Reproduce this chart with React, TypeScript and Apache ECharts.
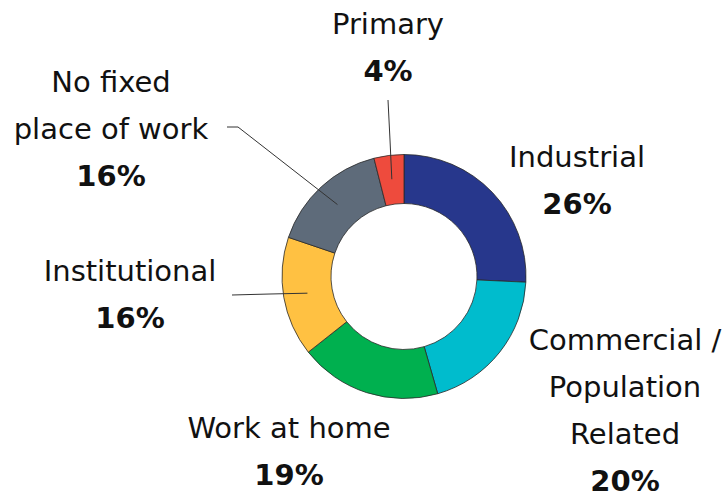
import React, { useEffect, useRef } from "react";
import * as echarts from "echarts";

const categories = [
  "Industrial",
  "Commercial /\nPopulation\nRelated",
  "Work at home",
  "Institutional",
  "No fixed\nplace of work",
  "Primary",
];
const shares = [26, 20, 19, 16, 16, 4];
const colors = ["#27378c", "#00bccd", "#00b04f", "#ffc142", "#5e6b7a", "#ee4b3d"];

// label placement (style only)
const labelPos: [number, number][] = [
  [577, 180],
  [625, 410],
  [289, 451],
  [130, 294],
  [111, 129],
  [388, 47],
];
// leader line bend / end points for slices that have leader lines
const lineEnds: (null | [number, number][])[] = [
  null,
  null,
  null,
  [[270, 294], [232, 295]],
  [[238, 127], [227, 127]],
  [[390, 140], [388, 100]],
];

const CX = 404;
const CY = 276.5;
const R_IN = 73;
const R_OUT = 122;

export default function App() {
  const ref = useRef<HTMLDivElement>(null);
  useEffect(() => {
    if (!ref.current) return;
    const chart = echarts.init(ref.current, null, { renderer: "svg" });
    const total = shares.reduce((a, b) => a + b, 0);
    const midAngles: number[] = [];
    let acc = 0;
    shares.forEach((v) => {
      midAngles.push(((acc + v / 2) / total) * 360);
      acc += v;
    });
    const rMid = (R_IN + R_OUT) / 2 + 0.5;

    const leaderLines: any[] = [];
    lineEnds.forEach((ends, i) => {
      if (!ends) return;
      const a = (midAngles[i] * Math.PI) / 180;
      const start = [CX + rMid * Math.sin(a), CY - rMid * Math.cos(a)];
      leaderLines.push({
        type: "polyline",
        z: 100,
        silent: true,
        shape: { points: [start, ends[0], ends[1]] },
        style: { stroke: "#333", lineWidth: 1, fill: null },
      });
    });

    chart.setOption({
      animation: false,
      backgroundColor: "#ffffff",
      graphic: leaderLines,
      series: [
        {
          type: "pie",
          center: [CX, CY],
          radius: [R_IN, R_OUT],
          startAngle: 90,
          clockwise: true,
          avoidLabelOverlap: false,
          itemStyle: { borderColor: "#2a2a2a", borderWidth: 0.8 },
          label: {
            show: true,
            position: "outside",
            fontFamily: "DejaVu Sans",
            formatter: (p: any) => {
              const lines = String(p.name)
                .split("\n")
                .map((l: string) => `{n|${l}}`)
                .join("\n");
              return `${lines}\n{p|${p.value}%}`;
            },
            rich: {
              n: {
                fontFamily: "DejaVu Sans",
                fontSize: 29,
                color: "#111",
                lineHeight: 47,
              },
              p: {
                fontFamily: "DejaVu Sans",
                fontSize: 29,
                fontWeight: "bold",
                color: "#111",
                lineHeight: 47,
              },
            },
          },
          labelLine: { show: false },
          labelLayout: (params: any) => {
            const i = params.dataIndex;
            return {
              x: labelPos[i][0],
              y: labelPos[i][1],
              align: "center",
              verticalAlign: "middle",
            };
          },
          data: categories.map((name, i) => ({
            name,
            value: shares[i],
            itemStyle: { color: colors[i] },
          })),
        },
      ],
    });
    return () => chart.dispose();
  }, []);
  return (
    <div
      ref={ref}
      style={{ position: "fixed", left: 0, top: 0, width: 727, height: 498 }}
    />
  );
}
